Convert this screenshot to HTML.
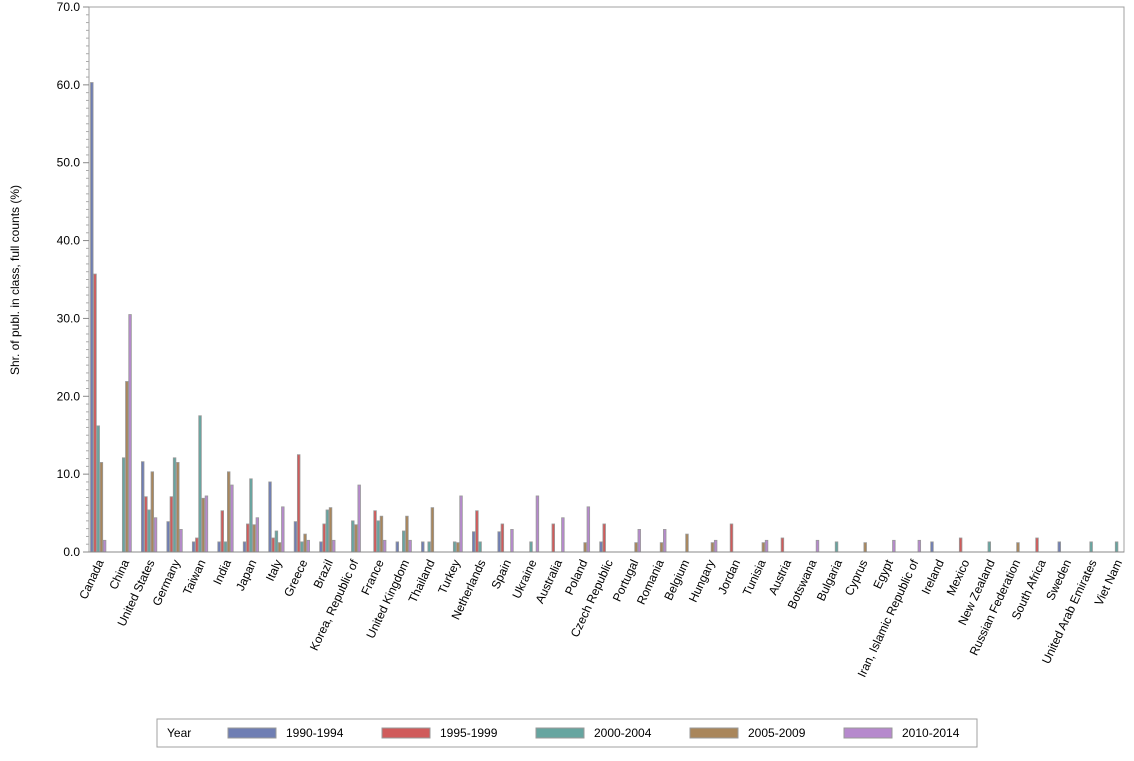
<!DOCTYPE html>
<html><head><meta charset="utf-8"><style>
body{margin:0;background:#fff;}
svg{font-family:"Liberation Sans",Arial,sans-serif;}
</style></head><body>
<svg id="s" width="1134" height="756" viewBox="0 0 1134 756">
<rect x="89" y="7" width="1035" height="545" fill="#fff" stroke="#a0a0a0"/>
<text transform="translate(19,280) rotate(-90)" text-anchor="middle" font-size="12">Shr. of publ. in class, full counts (%)</text>
<rect x="157" y="719" width="820" height="28" fill="#fff" stroke="#a0a0a0"/>
<text x="167" y="737" font-size="12">Year</text>
<rect x="228" y="728" width="48" height="10" fill="#6f7eb3" stroke="#999"/><text x="286" y="737" font-size="12">1990-1994</text>
<rect x="382" y="728" width="48" height="10" fill="#d05b5b" stroke="#999"/><text x="440" y="737" font-size="12">1995-1999</text>
<rect x="536" y="728" width="48" height="10" fill="#66a5a0" stroke="#999"/><text x="594" y="737" font-size="12">2000-2004</text>
<rect x="690" y="728" width="48" height="10" fill="#a9865b" stroke="#999"/><text x="748" y="737" font-size="12">2005-2009</text>
<rect x="844" y="728" width="48" height="10" fill="#b689cd" stroke="#999"/><text x="902" y="737" font-size="12">2010-2014</text>
<g id="g"></g>
</svg>
<script>
var d=[["Canada",60.3,35.7,16.2,11.5,1.5],["China",0,0,12.1,21.9,30.5],["United States",11.6,7.1,5.4,10.3,4.4],["Germany",3.9,7.1,12.1,11.5,2.9],["Taiwan",1.3,1.8,17.5,6.9,7.2],["India",1.3,5.3,1.3,10.3,8.6],["Japan",1.3,3.6,9.4,3.5,4.4],["Italy",9.0,1.8,2.7,1.2,5.8],["Greece",3.9,12.5,1.3,2.3,1.5],["Brazil",1.3,3.6,5.4,5.7,1.5],["Korea, Republic of",0,0,4.0,3.5,8.6],["France",0,5.3,4.0,4.6,1.5],["United Kingdom",1.3,0,2.7,4.6,1.5],["Thailand",1.3,0,1.3,5.7,0],["Turkey",0,0,1.3,1.2,7.2],["Netherlands",2.6,5.3,1.3,0,0],["Spain",2.6,3.6,0,0,2.9],["Ukraine",0,0,1.3,0,7.2],["Australia",0,3.6,0,0,4.4],["Poland",0,0,0,1.2,5.8],["Czech Republic",1.3,3.6,0,0,0],["Portugal",0,0,0,1.2,2.9],["Romania",0,0,0,1.2,2.9],["Belgium",0,0,0,2.3,0],["Hungary",0,0,0,1.2,1.5],["Jordan",0,3.6,0,0,0],["Tunisia",0,0,0,1.2,1.5],["Austria",0,1.8,0,0,0],["Botswana",0,0,0,0,1.5],["Bulgaria",0,0,1.3,0,0],["Cyprus",0,0,0,1.2,0],["Egypt",0,0,0,0,1.5],["Iran, Islamic Republic of",0,0,0,0,1.5],["Ireland",1.3,0,0,0,0],["Mexico",0,1.8,0,0,0],["New Zealand",0,0,1.3,0,0],["Russian Federation",0,0,0,1.2,0],["South Africa",0,1.8,0,0,0],["Sweden",1.3,0,0,0,0],["United Arab Emirates",0,0,1.3,0,0],["Viet Nam",0,0,1.3,0,0]];
var c=["#6f7eb3","#d05b5b","#66a5a0","#a9865b","#b689cd"];
var h='',k=545/70;
for(var v=0;v<=70;v++){var y=552-v*k;
 if(v%10==0){h+='<line x1="83" x2="89" y1="'+y+'" y2="'+y+'" stroke="#888"/>';h+='<text x="80" y="'+(y+4)+'" text-anchor="end" font-size="12">'+v+'.0</text>';}
 else h+='<line x1="86" x2="89" y1="'+y+'" y2="'+y+'" stroke="#aaa"/>';}
var w=25.46;
for(var i=0;i<d.length;i++){var x0=90+w*i;
 for(var j=0;j<5;j++){var val=d[i][j+1];if(!val)continue;var bh=val*k;
  h+='<rect x="'+(x0+j*3.2+0.5)+'" y="'+(552-bh)+'" width="2.6" height="'+bh+'" fill="'+c[j]+'" stroke="#9a9a9a" stroke-width="0.8"/>';}
 var cx=x0+9;
 h+='<text transform="translate('+(cx+5)+',562) rotate(-65)" text-anchor="end" font-size="12">'+d[i][0]+'</text>';}
h+='<line x1="89" x2="1124" y1="552" y2="552" stroke="#888"/>';
document.getElementById('g').innerHTML=h;
</script>
</body></html>
